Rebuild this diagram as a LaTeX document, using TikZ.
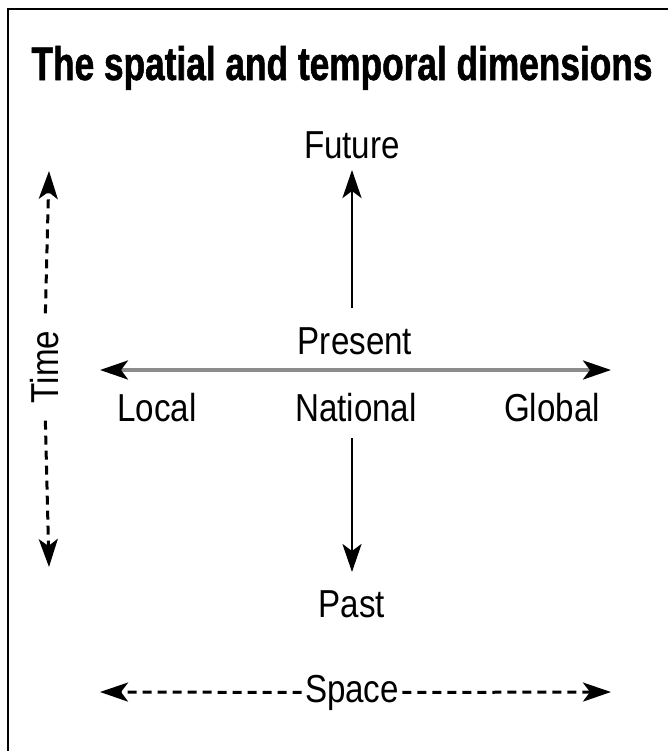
\documentclass[tikz,border=0pt]{standalone}
\usepackage{fontspec}
\setmainfont{Liberation Sans}[FakeStretch=0.85]
\newfontfamily\titlefont{Liberation Sans}[FakeStretch=0.75,BoldFeatures={FakeBold=1.2}]
\usetikzlibrary{arrows.meta}

\begin{document}
\begin{tikzpicture}[x=0.5pt,y=-0.5pt,line width=1.4pt,
  >={Stealth[length=14pt,width=9.5pt,inset=3.5pt,color=black]},
  lbl/.style={font=\fontsize{19.5}{22}\selectfont,anchor=base,inner sep=1pt},
  dashline/.style={line width=1.5pt,dash pattern=on 4.5pt off 3pt}]
  \useasboundingbox (0,0) rectangle (668,751);
  % marco
  \draw[line width=1pt] (668,9) -- (8,9) -- (8,751);
  % titulo
  \node[anchor=base,font=\titlefont\bfseries\fontsize{23.5}{26}\selectfont] (title) at (342,80) {The spatial and temporal dimensions};
  % eje del tiempo
  \node[lbl] (future) at (352,158) {Future};
  \node[lbl] (present) at (355,354) {Present};
  \node[lbl] (past) at (352,617) {Past};
  \coordinate (upS) at (352,308);
  \coordinate (upE) at (352,170);
  \coordinate (dnS) at (352,438);
  \coordinate (dnE) at (352,572);
  \draw[->] (upS) -- (upE);
  \draw[->] (dnS) -- (dnE);
  % eje del espacio
  \node[lbl] (local) at (157,421) {Local};
  \node[lbl] (national) at (356,421) {National};
  \node[lbl] (global) at (552,421) {Global};
  \coordinate (hL) at (100,370);
  \coordinate (hR) at (611,370);
  \draw[<->,line width=1.8pt,black!45] (hL) -- (hR);
  % flechas punteadas: Time y Space
  \node[lbl,anchor=center,rotate=90] (time) at (45,367) {Time};
  \coordinate (tT) at (49,171);
  \coordinate (tB) at (49,567);
  \draw[dashline,->,shorten <=7pt] (time.east) -- (tT);
  \draw[dashline,->,shorten <=7pt] (time.west) -- (tB);
  \node[lbl] (space) at (352,702) {Space};
  \coordinate (sL) at (100,692);
  \coordinate (sR) at (611,692);
  \draw[dashline,->] (space.west) -- (sL);
  \draw[dashline,->] (space.east) -- (sR);
\end{tikzpicture}
\end{document}
